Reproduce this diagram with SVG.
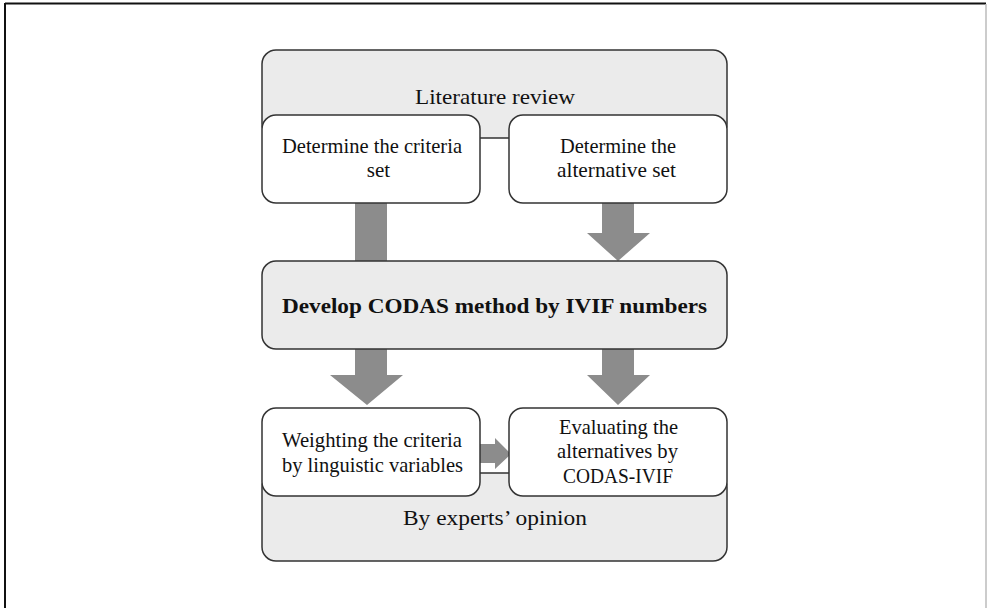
<svg xmlns="http://www.w3.org/2000/svg" width="987" height="608" viewBox="0 0 987 608">
<style>
.gbox{fill:#ebebeb;stroke:#333;stroke-width:1.5}
.wbox{fill:#fff;stroke:#333;stroke-width:1.5}
.t{font-family:"Liberation Serif","Times New Roman",serif;font-size:21px;fill:#111;text-anchor:middle}
.b{font-weight:bold;font-size:21.5px}
.arr{fill:#8c8c8c}
</style>
<rect width="987" height="608" fill="#fff"/>
<g id="frame">
<line x1="5" y1="3.5" x2="986" y2="3.5" stroke="#111" stroke-width="2"/>
<line x1="5" y1="3" x2="5" y2="608" stroke="#111" stroke-width="2"/>
<line x1="986" y1="4" x2="986" y2="608" stroke="#bbb" stroke-width="1.5"/>
</g>
<g id="connectors">
<rect class="arr" x="355" y="203" width="32" height="58"/>
<polygon class="arr" points="602,203 634,203 634,233 650,233 618,261 587,233 602,233"/>
<polygon class="arr" points="355,349 387,349 387,375 403,375 367,405 330,375 355,375"/>
<polygon class="arr" points="602,349 634,349 634,375 650,375 618,405 587,375 602,375"/>
<polygon class="arr" points="480,444 495,444 495,438 511,454 495,469 495,463 480,463"/>
</g>
<g id="literature">
<rect class="gbox" x="262" y="50" width="465" height="88" rx="14"/>
<text class="t" x="495" y="104" textLength="160" lengthAdjust="spacingAndGlyphs">Literature review</text>
</g>
<g id="criteria">
<rect class="wbox" x="262" y="115" width="218" height="88" rx="14"/>
<text class="t" x="372" y="153" textLength="180" lengthAdjust="spacingAndGlyphs">Determine the criteria</text>
<text class="t" x="378.5" y="177">set</text>
</g>
<g id="alternative">
<rect class="wbox" x="509" y="115" width="218" height="88" rx="14"/>
<text class="t" x="618" y="153" textLength="116" lengthAdjust="spacingAndGlyphs">Determine the</text>
<text class="t" x="616.5" y="177" textLength="119" lengthAdjust="spacingAndGlyphs">alternative set</text>
</g>
<g id="codas">
<rect class="gbox" x="262" y="261" width="465" height="88" rx="14"/>
<text class="t b" x="494.5" y="313" textLength="425" lengthAdjust="spacingAndGlyphs">Develop CODAS method by IVIF numbers</text>
</g>
<g id="experts">
<rect class="gbox" x="262" y="473" width="465" height="88" rx="14"/>
<text class="t" x="495" y="525" textLength="184" lengthAdjust="spacingAndGlyphs">By experts’ opinion</text>
</g>
<g id="weighting">
<rect class="wbox" x="262" y="408" width="218" height="88" rx="14"/>
<text class="t" x="372" y="447" textLength="180" lengthAdjust="spacingAndGlyphs">Weighting the criteria</text>
<text class="t" x="372.5" y="472" textLength="181" lengthAdjust="spacingAndGlyphs">by linguistic variables</text>
</g>
<g id="evaluating">
<rect class="wbox" x="509" y="408" width="218" height="88" rx="14"/>
<text class="t" x="618.5" y="434" textLength="119" lengthAdjust="spacingAndGlyphs">Evaluating the</text>
<text class="t" x="617.5" y="458" textLength="121" lengthAdjust="spacingAndGlyphs">alternatives by</text>
<text class="t" x="618" y="483" textLength="110" lengthAdjust="spacingAndGlyphs">CODAS-IVIF</text>
</g>
</svg>
